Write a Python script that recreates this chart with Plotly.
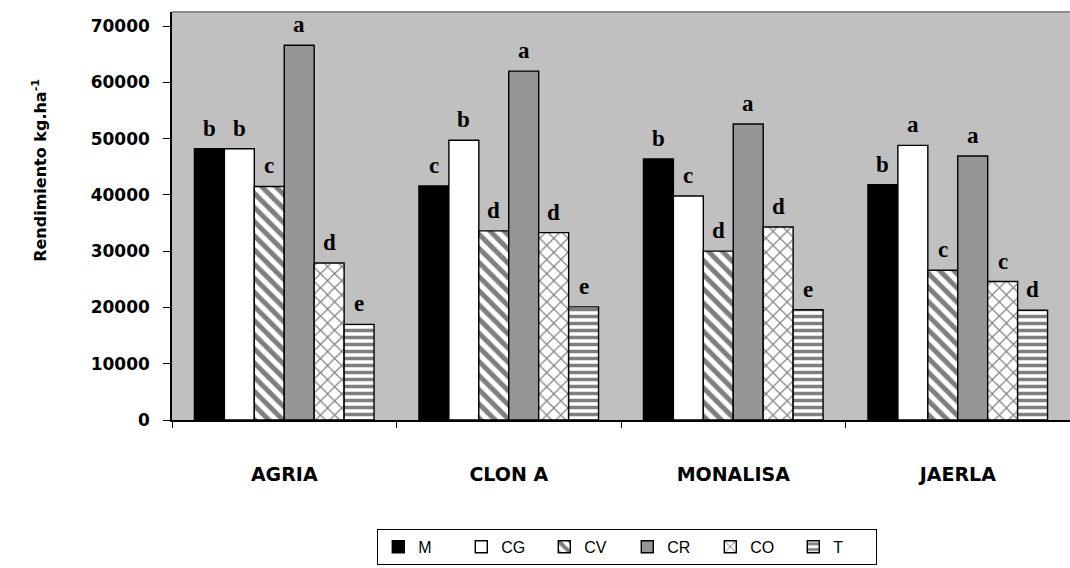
import plotly.graph_objects as go

# Cultivars and treatments
cultivars = ["AGRIA", "CLON A", "MONALISA", "JAERLA"]
treatments = ["M", "CG", "CV", "CR", "CO", "T"]

# Yield (kg/ha) per treatment, ordered as cultivars
yield_M = [48200, 41600, 46400, 41800]
yield_CG = [48200, 49700, 39800, 48800]
yield_CV = [41500, 33600, 30000, 26600]
yield_CR = [66600, 62000, 52600, 46900]
yield_CO = [27900, 33300, 34300, 24600]
yield_T = [17000, 20100, 19600, 19500]

# Mean-separation letters per treatment
letters_M = ["b", "c", "b", "b"]
letters_CG = ["b", "b", "c", "a"]
letters_CV = ["c", "d", "d", "c"]
letters_CR = ["a", "a", "a", "a"]
letters_CO = ["d", "d", "d", "c"]
letters_T = ["e", "e", "e", "d"]

y_ticks = [0, 10000, 20000, 30000, 40000, 50000, 60000, 70000]

series = [yield_M, yield_CG, yield_CV, yield_CR, yield_CO, yield_T]
letters = [letters_M, letters_CG, letters_CV, letters_CR, letters_CO, letters_T]

styles = [
    dict(color="#000000", pattern=None),
    dict(color="#ffffff", pattern=None),
    dict(color="#ffffff", pattern=dict(shape="\\", fgcolor="#000000", bgcolor="#ffffff",
                                       size=10, solidity=0.5)),
    dict(color="#969696", pattern=None),
    dict(color="#ffffff", pattern=dict(shape="x", fgcolor="#000000", bgcolor="#ffffff",
                                       size=10, solidity=0.22)),
    dict(color="#ffffff", pattern=dict(shape="-", fgcolor="#000000", bgcolor="#ffffff",
                                       size=7, solidity=0.5)),
]

BARGAP = 0.2
fig = go.Figure()
for name, vals, st in zip(treatments, series, styles):
    marker = dict(color=st["color"], line=dict(color="#000000", width=1.4))
    if st["pattern"]:
        marker["pattern"] = st["pattern"]
    fig.add_trace(go.Bar(name=name, x=cultivars, y=vals, marker=marker))

# Letters above each bar, positioned at the grouped-bar offsets
n = len(treatments)
w = (1 - BARGAP) / n
for j, (vals, labs) in enumerate(zip(series, letters)):
    for i, (v, lab) in enumerate(zip(vals, labs)):
        fig.add_annotation(
            x=i + (j - (n - 1) / 2) * w, y=v, xref="x", yref="y",
            text=f"<b>{lab}</b>", showarrow=False, yanchor="bottom", yshift=6,
            font=dict(family="Liberation Serif", size=23, color="#000000"),
        )

# Y axis title
fig.add_annotation(
    x=-0.161, y=0.613, xref="paper", yref="paper",
    text="<b>Rendimiento kg.ha<sup>-1</sup></b>", textangle=-90, showarrow=False,
    font=dict(family="DejaVu Sans", size=16, color="#000000"),
)

# Top border of the plot area
fig.add_shape(type="line", xref="paper", yref="paper", x0=0, x1=1, y0=1, y1=1,
              line=dict(color="#8c8c8c", width=2))

fig.update_layout(
    width=1070, height=568,
    margin=dict(l=172, r=0, t=12, b=148, autoexpand=False),
    paper_bgcolor="#ffffff", plot_bgcolor="#c0c0c0",
    barmode="group", bargap=BARGAP, bargroupgap=0,
    font=dict(family="Liberation Sans", color="#000000"),
    showlegend=True,
    legend=dict(
        orientation="h", x=0.507, xanchor="center", y=-0.355, yanchor="bottom",
        bgcolor="#ffffff", bordercolor="#000000", borderwidth=1,
        font=dict(family="Liberation Sans", size=16, color="#000000"),
        itemwidth=30, tracegroupgap=0, entrywidth=38, entrywidthmode="pixels",
    ),
    xaxis=dict(
        type="category", range=[-0.5, 3.5], tickson="boundaries",
        ticks="outside", ticklen=6, tickcolor="#000000", tickwidth=1,
        showline=True, linecolor="#000000", linewidth=1.5, showgrid=False,
        tickfont=dict(family="DejaVu Sans", size=19, color="#000000", weight="bold"),
        ticklabelstandoff=36,
    ),
    yaxis=dict(
        range=[0, 72500], tickvals=y_ticks, ticktext=[str(t) for t in y_ticks],
        ticks="outside", ticklen=7, tickcolor="#000000", tickwidth=1,
        showline=True, linecolor="#000000", linewidth=1.5, showgrid=False, zeroline=False,
        tickfont=dict(family="DejaVu Sans", size=17, color="#000000", weight="bold"),
        ticklabelstandoff=10,
    ),
)

fig.write_html("out.html")
